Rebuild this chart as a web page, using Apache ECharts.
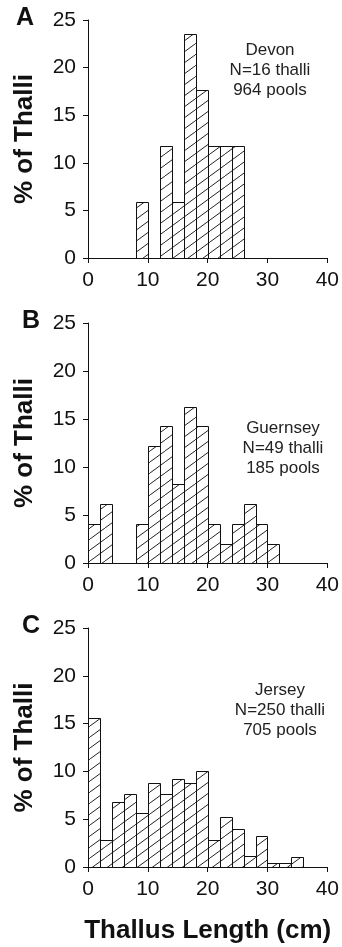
<!DOCTYPE html>
<html>
<head>
<meta charset="utf-8">
<script src="https://cdn.jsdelivr.net/npm/echarts@6/dist/echarts.min.js"></script>
<style>
  html, body { margin: 0; padding: 0; background: #fff; }
  #main { width: 342px; height: 947px; }
</style>
</head>
<body>
<div id="main"></div>
<script>
// bin edges (cm), 2 cm wide
const binStarts = [0, 2, 4, 6, 8, 10, 12, 14, 16, 18, 20, 22, 24, 26, 28, 30, 32, 34, 36, 38];
const binWidth = 2;

// % of thalli per bin
const devon    = [0, 0, 0, 0, 5.9, 0, 11.8, 5.9, 23.5, 17.6, 11.8, 11.8, 11.8, 0, 0, 0, 0, 0, 0, 0];
const guernsey = [4.1, 6.1, 0, 0, 4.1, 12.2, 14.3, 8.2, 16.3, 14.3, 4.1, 2.0, 4.1, 6.1, 4.1, 2.0, 0, 0, 0, 0];
const jersey   = [15.6, 2.8, 6.8, 7.6, 5.6, 8.8, 7.6, 9.2, 8.8, 10.0, 2.8, 5.2, 4.0, 1.2, 3.2, 0.4, 0.4, 1.0, 0, 0];

const xTicks = [0, 10, 20, 30, 40];
const yTicks = [0, 5, 10, 15, 20, 25];

const panels = [
  { letter: 'A', values: devon,    lines: ['Devon', 'N=16 thalli', '964 pools'] },
  { letter: 'B', values: guernsey, lines: ['Guernsey', 'N=49 thalli', '185 pools'] },
  { letter: 'C', values: jersey,   lines: ['Jersey', 'N=250 thalli', '705 pools'] }
];

// hatch tile: "/" lines
function hatch() {
  const W = 15, H = 11;
  const c = document.createElement('canvas');
  c.width = W; c.height = H;
  const ctx = c.getContext('2d');
  ctx.strokeStyle = '#222';
  ctx.lineWidth = 1;
  ctx.beginPath();
  ctx.moveTo(-W, 2 * H); ctx.lineTo(2 * W, -H);
  ctx.stroke();
  return c;
}
const hatchCanvas = hatch();

const font = '"Liberation Sans", Arial, sans-serif';
const gridTops = [20, 323, 628];
const gridH = [238, 240, 239];

const grids = [], xAxes = [], yAxes = [], series = [], graphics = [];

panels.forEach((p, i) => {
  grids.push({ left: 88, width: 240, top: gridTops[i], height: gridH[i] });
  xAxes.push({
    gridIndex: i, type: 'value', min: xTicks[0], max: xTicks[xTicks.length - 1], interval: 10,
    axisLine: { lineStyle: { color: '#111', width: 1 } },
    axisTick: { show: true, length: 5, lineStyle: { color: '#111' } },
    axisLabel: { color: '#111', fontSize: 21, fontFamily: font, margin: 12 },
    splitLine: { show: false },
    name: i === 2 ? 'Thallus Length (cm)' : '',
    nameLocation: 'middle', nameGap: 51,
    nameTextStyle: { color: '#111', fontSize: 26, fontWeight: 'bold', fontFamily: font }
  });
  yAxes.push({
    gridIndex: i, type: 'value', min: yTicks[0], max: yTicks[yTicks.length - 1], interval: 5,
    axisLine: { show: true, lineStyle: { color: '#111', width: 1 } },
    axisTick: { show: true, length: 5, lineStyle: { color: '#111' } },
    axisLabel: { color: '#111', fontSize: 21, fontFamily: font, margin: 12 },
    splitLine: { show: false },
    name: '% of Thalli', nameLocation: 'middle', nameGap: 50,
    nameTextStyle: { color: '#111', fontSize: 26, fontWeight: 'bold', fontFamily: font }
  });
  const data = [];
  binStarts.forEach((b, k) => {
    if (p.values[k] > 0) data.push([b, b + binWidth, p.values[k]]);
  });
  series.push({
    type: 'custom', xAxisIndex: i, yAxisIndex: i, data: data,
    renderItem: function (params, api) {
      const a = api.coord([api.value(0), api.value(2)]);
      const b = api.coord([api.value(1), 0]);
      const x = Math.round(a[0]) + 0.5, y = Math.round(a[1]) + 0.5;
      const w = Math.round(b[0]) - Math.round(a[0]);
      const h = Math.round(b[1]) - Math.round(a[1]);
      return {
        type: 'rect',
        shape: { x: x, y: y, width: w, height: h },
        style: { fill: { image: hatchCanvas, repeat: 'repeat' }, stroke: '#111', lineWidth: 1 }
      };
    }
  });
  graphics.push({
    type: 'text', left: i === 0 ? 16 : 22, top: gridTops[i] - 14,
    style: { text: p.letter, font: 'bold 25px ' + font, fill: '#111' }
  });
});

const noteCenters = [[270, 50], [283, 428], [280, 690]];
panels.forEach((p, i) => {
  graphics.push({
    type: 'text', x: noteCenters[i][0], y: noteCenters[i][1] - 10,
    style: {
      text: p.lines.join('\n'), font: '17px ' + font, fill: '#222',
      align: 'center', verticalAlign: 'top', lineHeight: 20
    }
  });
});

const chart = echarts.init(document.getElementById('main'), null, { renderer: 'canvas' });
chart.setOption({
  animation: false,
  backgroundColor: '#fff',
  grid: grids,
  xAxis: xAxes,
  yAxis: yAxes,
  series: series,
  graphic: graphics
});
</script>
</body>
</html>
